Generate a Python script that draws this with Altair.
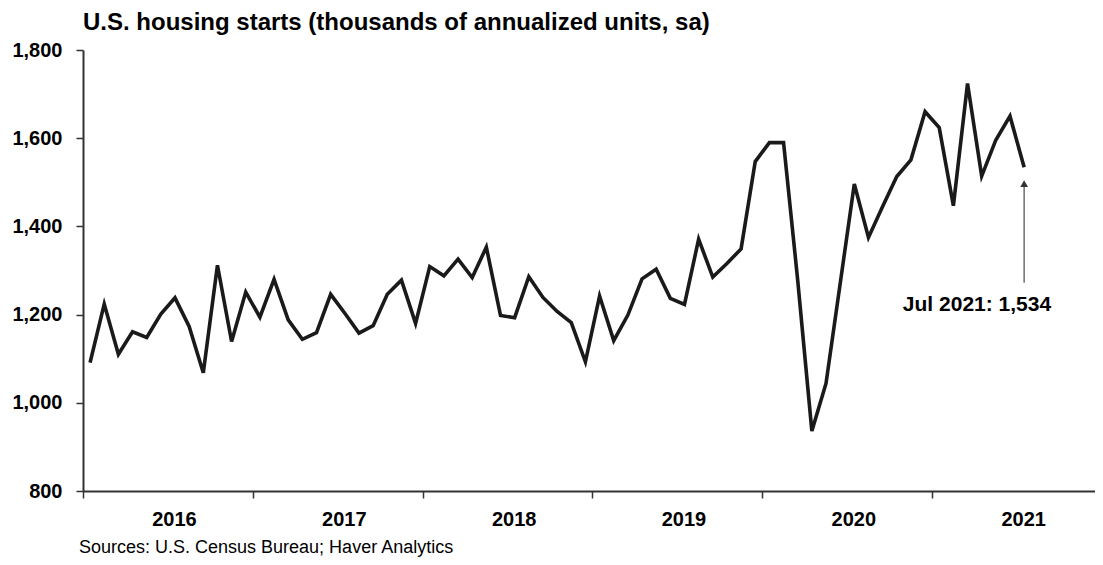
import altair as alt
import pandas as pd

# ---- data ----
years = [2016, 2017, 2018, 2019, 2020, 2021]
starts_2016 = [1091, 1224, 1110, 1161, 1148, 1201, 1238, 1173, 1068, 1312, 1139, 1251]
starts_2017 = [1194, 1280, 1188, 1144, 1159, 1246, 1203, 1158, 1175, 1246, 1278, 1180]
starts_2018 = [1309, 1288, 1326, 1284, 1353, 1198, 1193, 1286, 1239, 1207, 1182, 1093]
starts_2019 = [1242, 1141, 1199, 1281, 1303, 1237, 1223, 1371, 1285, 1316, 1349, 1547]
starts_2020 = [1590, 1590, 1278, 936, 1044, 1270, 1496, 1375, 1445, 1513, 1551, 1660]
starts_2021 = [1624, 1447, 1724, 1514, 1596, 1650, 1534]
series = [starts_2016, starts_2017, starts_2018, starts_2019, starts_2020, starts_2021]

y_ticks = [800, 1000, 1200, 1400, 1600, 1800]

title_text = "U.S. housing starts (thousands of annualized units, sa)"
source_text = "Sources: U.S. Census Bureau; Haver Analytics"
annot_text = "Jul 2021: 1,534"

rows = []
for yr, vals in zip(years, series):
    for m, v in enumerate(vals):
        rows.append({"t": yr + (m + 0.5) / 12.0, "value": v})
df = pd.DataFrame(rows)

last_t = df["t"].iloc[-1]
arrow_df = pd.DataFrame({"t": [last_t], "y0": [1272], "y1": [1492], "head": [1497]})
label_df = pd.DataFrame({"t": [2021.264], "value": [1208], "label": [annot_text]})

FONT = "Liberation Sans"
W = 1012
H = 441
x_domain = [2016, 2016 + W / 169.83]

x_scale = alt.Scale(domain=x_domain, nice=False, zero=False)
y_scale = alt.Scale(domain=[800, 1800], nice=False, zero=False)

line = alt.Chart(df).mark_line(color="#1a1a1a", strokeWidth=3.6, clip=False).encode(
    x=alt.X("t:Q", scale=x_scale,
            axis=alt.Axis(values=years, title=None, grid=False, format="d",
                          labelExpr="format(datum.value, 'd')",
                          labelOffset=91, labelFlush=False, labelOverlap=False,
                          labelFont=FONT, labelFontSize=20, labelFontWeight="bold",
                          labelColor="#000", labelPadding=11,
                          tickSize=7, tickColor="#333", tickWidth=1.5,
                          domainColor="#333", domainWidth=2)),
    y=alt.Y("value:Q", scale=y_scale,
            axis=alt.Axis(values=y_ticks, title=None, grid=False, format=",d",
                          labelFont=FONT, labelFontSize=20, labelFontWeight="bold",
                          labelColor="#000", labelPadding=14,
                          tickSize=7, tickColor="#333", tickWidth=1.5,
                          domainColor="#333", domainWidth=2)),
)

arrow_rule = alt.Chart(arrow_df).mark_rule(color="#6e6e6e", strokeWidth=1.5).encode(
    x=alt.X("t:Q", scale=x_scale),
    y=alt.Y("y0:Q", scale=y_scale),
    y2="y1:Q",
)
arrow_head = alt.Chart(arrow_df).mark_point(shape="triangle-up", filled=True,
                                             color="#333", size=60, opacity=1).encode(
    x=alt.X("t:Q", scale=x_scale),
    y=alt.Y("head:Q", scale=y_scale),
)
annot = alt.Chart(label_df).mark_text(font=FONT, fontSize=21, fontWeight="bold",
                                      color="#000", align="center",
                                      baseline="alphabetic").encode(
    x=alt.X("t:Q", scale=x_scale),
    y=alt.Y("value:Q", scale=y_scale),
    text="label:N",
)

title = alt.Chart(pd.DataFrame({"txt": [title_text]})).mark_text(
    font=FONT, fontSize=24, fontWeight="bold", color="#000",
    align="left", baseline="alphabetic").encode(
    x=alt.value(0), y=alt.value(-20), text="txt:N")

source = alt.Chart(pd.DataFrame({"txt": [source_text]})).mark_text(
    font=FONT, fontSize=18, color="#000",
    align="left", baseline="alphabetic").encode(
    x=alt.value(-4), y=alt.value(503), text="txt:N")

chart = alt.layer(line, arrow_rule, arrow_head, annot, title, source).properties(
    width=W, height=H,
    autosize=alt.AutoSizeParams(type="none"),
    padding={"left": 75, "top": 42, "right": 0, "bottom": 66},
    background="#ffffff",
).configure_view(stroke=None)

chart.save("out.html", embed_options={"renderer": "svg", "actions": False})
